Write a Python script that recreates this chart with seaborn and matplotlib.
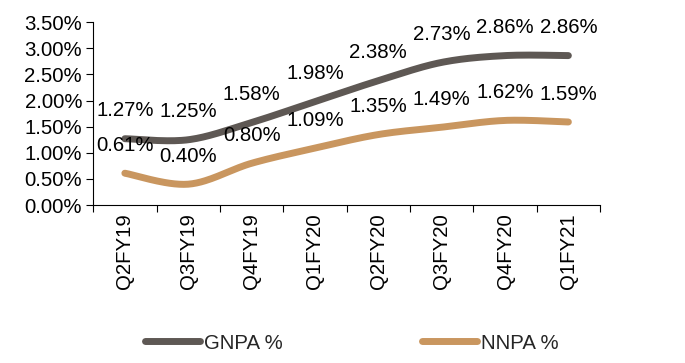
import numpy as np
import pandas as pd
import matplotlib
matplotlib.use("Agg")
import matplotlib.pyplot as plt
import seaborn as sns
from matplotlib.ticker import FuncFormatter, FixedLocator

quarters = ["Q2FY19", "Q3FY19", "Q4FY19", "Q1FY20", "Q2FY20", "Q3FY20", "Q4FY20", "Q1FY21"]
gnpa = [1.27, 1.25, 1.58, 1.98, 2.38, 2.73, 2.86, 2.86]
nnpa = [0.61, 0.40, 0.80, 1.09, 1.35, 1.49, 1.62, 1.59]

series_names = ["GNPA %", "NNPA %"]
series_colors = ["#5E5854", "#C9965F"]

FS = 14.7

sns.set_theme(style="white")
plt.rcParams["font.family"] = ["Liberation Sans", "DejaVu Sans"]


def smooth(values, steps=30):
    """Catmull-Rom style smoothing between consecutive points."""
    y = np.asarray(values, dtype=float)
    x = np.arange(len(y), dtype=float)
    px = np.concatenate([[x[0]], x, [x[-1]]])
    py = np.concatenate([[y[0]], y, [y[-1]]])
    xs, ys = [], []
    for i in range(len(y) - 1):
        p0, p1, p2, p3 = (np.array([px[i + k], py[i + k]]) for k in range(4))
        c1 = p1 + (p2 - p0) / 6.0
        c2 = p2 - (p3 - p1) / 6.0
        t = np.linspace(0, 1, steps, endpoint=(i == len(y) - 2))[:, None]
        pts = ((1 - t) ** 3) * p1 + 3 * ((1 - t) ** 2) * t * c1 + 3 * (1 - t) * t ** 2 * c2 + t ** 3 * p2
        xs.append(pts[:, 0])
        ys.append(pts[:, 1])
    return np.concatenate(xs), np.concatenate(ys)


frames = []
for name, vals in zip(series_names, [gnpa, nnpa]):
    sx, sy = smooth(vals)
    frames.append(pd.DataFrame({"x": sx, "y": sy, "series": name}))
curve = pd.concat(frames, ignore_index=True)

fig = plt.figure(figsize=(6.85, 3.63), dpi=100)
ax = fig.add_axes([0.136, 0.435, 0.740, 0.504])

sns.lineplot(data=curve, x="x", y="y", hue="series", palette=series_colors,
             hue_order=series_names, linewidth=5, ax=ax, legend=False,
             sort=False, estimator=None, solid_capstyle="round")

# value labels above each point
for vals in [gnpa, nnpa]:
    for i, v in enumerate(vals):
        ax.annotate(f"{v:.2f}%", (i, v), xytext=(0, 20), textcoords="offset points",
                    ha="center", va="center", fontsize=FS, color="black")

ax.set_xlim(-0.5, len(quarters) - 0.5)
ax.set_ylim(0, 3.5)
ax.set_yticks(np.arange(0, 3.51, 0.5))
ax.yaxis.set_major_formatter(FuncFormatter(lambda v, _: f"{v:.2f}%"))

# category boundaries as ticks, names centred between them
ax.xaxis.set_major_locator(FixedLocator(np.arange(-0.5, len(quarters), 1.0)))
ax.xaxis.set_minor_locator(FixedLocator(np.arange(len(quarters))))
ax.set_xticklabels([], minor=False)
ax.set_xticklabels(quarters, minor=True, rotation=90)
ax.tick_params(axis="x", which="major", direction="out", length=5, width=0.8, color="black", bottom=True)
ax.tick_params(axis="x", which="minor", length=0, pad=6, labelsize=FS, labelcolor="black")
ax.tick_params(axis="y", direction="out", length=5, width=0.8, color="black", left=True,
               labelsize=FS, labelcolor="black", pad=3)

ax.set_xlabel("")
ax.set_ylabel("")
for side in ["top", "right"]:
    ax.spines[side].set_visible(False)
for side in ["left", "bottom"]:
    ax.spines[side].set_color("black")
    ax.spines[side].set_linewidth(0.8)

handles = [plt.Line2D([], [], color=c, linewidth=5, solid_capstyle="round") for c in series_colors]
fig.legend(handles, series_names, loc="center", bbox_to_anchor=(0.514, 0.055), ncol=2,
           frameon=False, fontsize=FS, handlelength=2.7, handletextpad=0.2, columnspacing=6.8)

fig.savefig("out.png", dpi=100, facecolor="white")
